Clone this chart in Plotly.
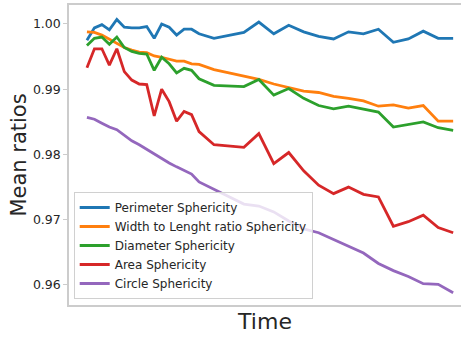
import plotly.graph_objects as go

time = list(range(0, 16)) + list(range(17, 50, 2))

perimeter = [0.9975, 0.9994, 0.9999, 0.9991, 1.0007, 0.9995, 0.9994, 0.9994, 0.9996, 0.9978,
             1.0000, 0.9995, 0.9983, 0.9992, 0.9992, 0.9985, 0.9978, 0.9982, 0.9987, 1.0003,
             0.9985, 0.9998, 0.9988, 0.9981, 0.9977, 0.9988, 0.9985, 0.9992, 0.9972, 0.9977,
             0.9989, 0.9978, 0.9978]
width_len = [0.9988, 0.9987, 0.9983, 0.9977, 0.9971, 0.9964, 0.9960, 0.9957, 0.9956, 0.9951,
             0.9949, 0.9946, 0.9943, 0.9943, 0.9939, 0.9938, 0.9930, 0.9925, 0.9920, 0.9915,
             0.9908, 0.9903, 0.9897, 0.9895, 0.9889, 0.9886, 0.9882, 0.9874, 0.9876, 0.9871,
             0.9875, 0.9851, 0.9851]
diameter = [0.9967, 0.9978, 0.9980, 0.9969, 0.9980, 0.9964, 0.9958, 0.9955, 0.9954, 0.9929,
            0.9949, 0.9939, 0.9925, 0.9932, 0.9929, 0.9916, 0.9906, 0.9905, 0.9904, 0.9915,
            0.9891, 0.9901, 0.9886, 0.9875, 0.9870, 0.9874, 0.9869, 0.9865, 0.9842, 0.9846,
            0.9850, 0.9841, 0.9837]
area = [0.9933, 0.9962, 0.9962, 0.9937, 0.9962, 0.9927, 0.9914, 0.9908, 0.9907, 0.9859,
        0.9900, 0.9881, 0.9851, 0.9866, 0.9861, 0.9835, 0.9815, 0.9813, 0.9811, 0.9832,
        0.9786, 0.9803, 0.9775, 0.9753, 0.9740, 0.9750, 0.9739, 0.9735, 0.9690, 0.9697,
        0.9707, 0.9688, 0.9680]
circle = [0.9857, 0.9854, 0.9848, 0.9842, 0.9838, 0.9830, 0.9821, 0.9815, 0.9808, 0.9801,
          0.9793, 0.9787, 0.9781, 0.9775, 0.9770, 0.9758, 0.9747, 0.9735, 0.9724, 0.9721,
          0.9712, 0.9698, 0.9686, 0.9680, 0.9670, 0.9659, 0.9649, 0.9633, 0.9622, 0.9613,
          0.9602, 0.9601, 0.9588]

series_names = ["Perimeter Sphericity", "Width to Lenght ratio Sphericity",
                "Diameter Sphericity", "Area Sphericity", "Circle Sphericity"]
series_values = [perimeter, width_len, diameter, area, circle]
colors = ["#1f77b4", "#ff7f0e", "#2ca02c", "#d62728", "#9467bd"]
y_ticks = [0.96, 0.97, 0.98, 0.99, 1.00]
y_tick_labels = ["0.96", "0.97", "0.98", "0.99", "1.00"]

FONT = "DejaVu Sans"

fig = go.Figure()
for name, vals, c in zip(series_names, series_values, colors):
    fig.add_trace(go.Scatter(x=time, y=vals, mode="lines", name=name,
                             line=dict(color=c, width=2.8)))

fig.update_layout(
    width=461, height=337,
    margin=dict(l=69, r=0, t=5, b=32),
    plot_bgcolor="white", paper_bgcolor="white",
    font=dict(family=FONT, color="#262626"),
    showlegend=True,
    legend=dict(x=0.012, y=0.02, xanchor="left", yanchor="bottom",
                bgcolor="rgba(255,255,255,0.8)", bordercolor="#d0d0d0", borderwidth=1,
                font=dict(family=FONT, size=12, color="#262626"),
                itemwidth=30, tracegroupgap=0),
)
fig.update_xaxes(range=[-2.4, 50.05], showticklabels=False, ticks="",
                 showgrid=False, zeroline=False,
                 showline=True, linecolor="#cccccc", linewidth=1.5, mirror=True,
                 title=dict(text="Time", font=dict(family=FONT, size=22, color="#262626"),
                            standoff=8))
fig.update_yaxes(range=[0.95693, 1.00291], tickvals=y_ticks, ticktext=y_tick_labels,
                 ticks="outside", ticklen=4, tickcolor="#cccccc", tickwidth=1,
                 tickfont=dict(family=FONT, size=12.5, color="#262626"),
                 showgrid=False, zeroline=False,
                 showline=True, linecolor="#cccccc", linewidth=1.5,
                 title=dict(text="Mean ratios", font=dict(family=FONT, size=21, color="#262626"),
                            standoff=1))

fig.write_html("out.html")
